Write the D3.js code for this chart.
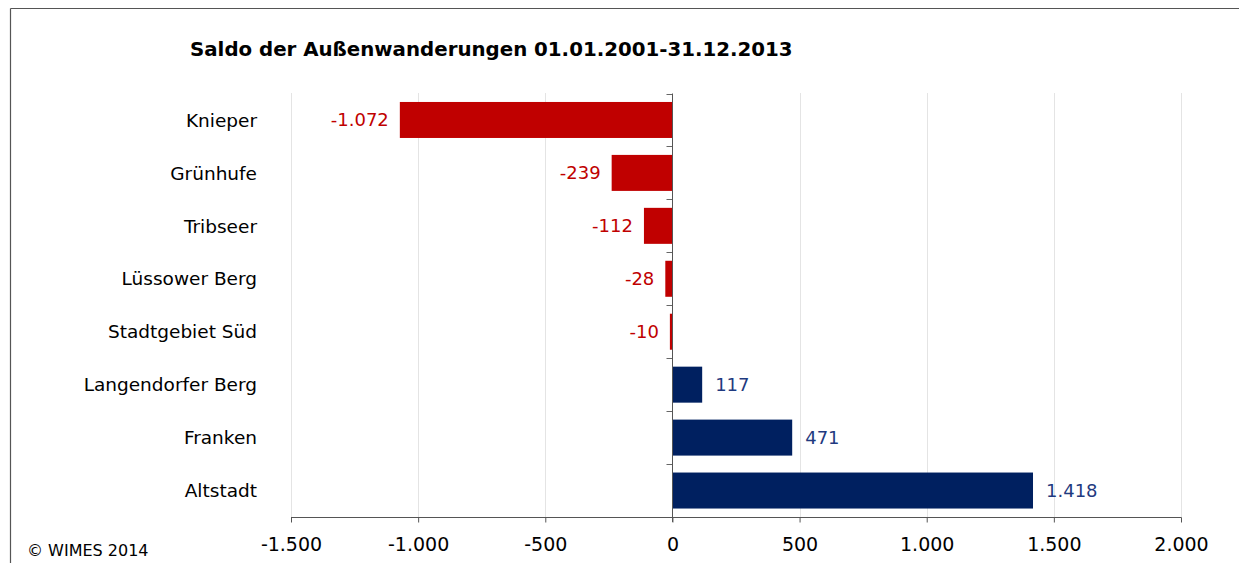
<!DOCTYPE html>
<html>
<head>
<meta charset="utf-8">
<script src="https://cdn.jsdelivr.net/npm/d3@7"></script>
<style>
  body { margin: 0; background: #fff; }
  svg { display: block; font-family: "DejaVu Sans", Verdana, sans-serif; }
  .cat_label { font-size: 18.5px; fill: #000; }
  .value_label { font-size: 18px; }
  .tick_label { font-size: 19px; fill: #000; }
</style>
</head>
<body>
<svg id="chart" width="1239" height="563"></svg>
<script>
// DATA
var districts = ["Knieper", "Grünhufe", "Tribseer", "Lüssower Berg", "Stadtgebiet Süd",
                 "Langendorfer Berg", "Franken", "Altstadt"];
var saldo = [-1072, -239, -112, -28, -10, 117, 471, 1418];
var x_ticks = [-1500, -1000, -500, 0, 500, 1000, 1500, 2000];
var chart_title = "Saldo der Außenwanderungen 01.01.2001-31.12.2013";
var source_text = "© WIMES 2014";

// german number format, plain hyphen as minus
var de = d3.formatLocale({ decimal: ",", thousands: ".", grouping: [3], currency: ["", " €"], minus: "-" });
var fmt = de.format(",d");

var svg = d3.select("#chart");

// plot area
var plot_left = 291, plot_right = 1181, plot_top = 93.5, plot_bottom = 517;

var xScale = d3.scaleLinear().domain([-1500, 2000]).range([plot_left, plot_right]);
var yScale = d3.scaleBand().domain(districts).range([plot_top, plot_bottom]).paddingInner(0.32).paddingOuter(0.16);

var data = districts.map((d, i) => ({ name: d, value: saldo[i] }));

// frame (top + left only visible)
svg.append("line").attr("x1", 10.5).attr("x2", 1239).attr("y1", 8.5).attr("y2", 8.5)
  .attr("stroke", "#555").attr("stroke-width", 1.2);
svg.append("line").attr("x1", 10.5).attr("x2", 10.5).attr("y1", 8.5).attr("y2", 563)
  .attr("stroke", "#555").attr("stroke-width", 1.2);

// title
svg.append("text").attr("x", 190).attr("y", 56)
  .style("font-size", "19.8px").style("font-weight", "bold")
  .text(chart_title);

// grid lines
svg.append("g").selectAll("line")
  .data(x_ticks.filter(d => d != 0))
  .enter().append("line")
  .attr("x1", d => Math.round(xScale(d)) + 0.5).attr("x2", d => Math.round(xScale(d)) + 0.5)
  .attr("y1", plot_top).attr("y2", plot_bottom)
  .attr("stroke", "#c8c8c8").attr("stroke-dasharray", "1,1");

// bars
svg.append("g").selectAll("rect")
  .data(data)
  .enter().append("rect")
  .attr("x", d => xScale(Math.min(0, d.value)))
  .attr("y", d => yScale(d.name))
  .attr("width", d => Math.abs(xScale(d.value) - xScale(0)))
  .attr("height", yScale.bandwidth())
  .attr("fill", d => d.value < 0 ? "#c00000" : "#002060");

// value labels
svg.append("g").selectAll("text")
  .data(data)
  .enter().append("text")
  .attr("class", "value_label")
  .attr("x", d => d.value < 0 ? xScale(d.value) - 11 : xScale(d.value) + 13)
  .attr("y", d => yScale(d.name) + yScale.bandwidth() / 2)
  .attr("dy", "0.36em")
  .attr("text-anchor", d => d.value < 0 ? "end" : "start")
  .style("fill", d => d.value < 0 ? "#c00000" : "#1f3a80")
  .text(d => fmt(d.value));

// category labels
svg.append("g").selectAll("text")
  .data(data)
  .enter().append("text")
  .attr("class", "cat_label")
  .attr("x", 257)
  .attr("y", d => yScale(d.name) + yScale.bandwidth() / 2)
  .attr("dy", "0.36em")
  .attr("text-anchor", "end")
  .text(d => d.name);

// category axis at zero with ticks at band boundaries
var zx = Math.round(xScale(0)) + 0.5;
var step = yScale.step();
svg.append("g").selectAll("line")
  .data(d3.range(0, districts.length))
  .enter().append("line")
  .attr("x1", zx - 6).attr("x2", zx)
  .attr("y1", i => Math.round(plot_top + i * step) + 0.5).attr("y2", i => Math.round(plot_top + i * step) + 0.5)
  .attr("stroke", "#666");
svg.append("line").attr("x1", zx).attr("x2", zx).attr("y1", plot_top).attr("y2", plot_bottom + 5)
  .attr("stroke", "#555");

// x axis
var xAxis = d3.axisBottom(xScale).tickValues(x_ticks).tickSize(5).tickPadding(15).tickFormat(fmt);
var gx = svg.append("g").attr("transform", "translate(0," + (plot_bottom + 0.5) + ")").call(xAxis);
gx.select(".domain").attr("stroke", "#555").attr("d", "M" + plot_left + ",0H" + (plot_right + 0.5));
gx.selectAll(".tick line").attr("stroke", "#555");
gx.selectAll(".tick text").attr("class", "tick_label").attr("fill", "#000")
  .style("font-family", "'DejaVu Sans', sans-serif");

// source
svg.append("text").attr("x", 27).attr("y", 556)
  .style("font-size", "16px").text(source_text);
</script>
</body>
</html>
